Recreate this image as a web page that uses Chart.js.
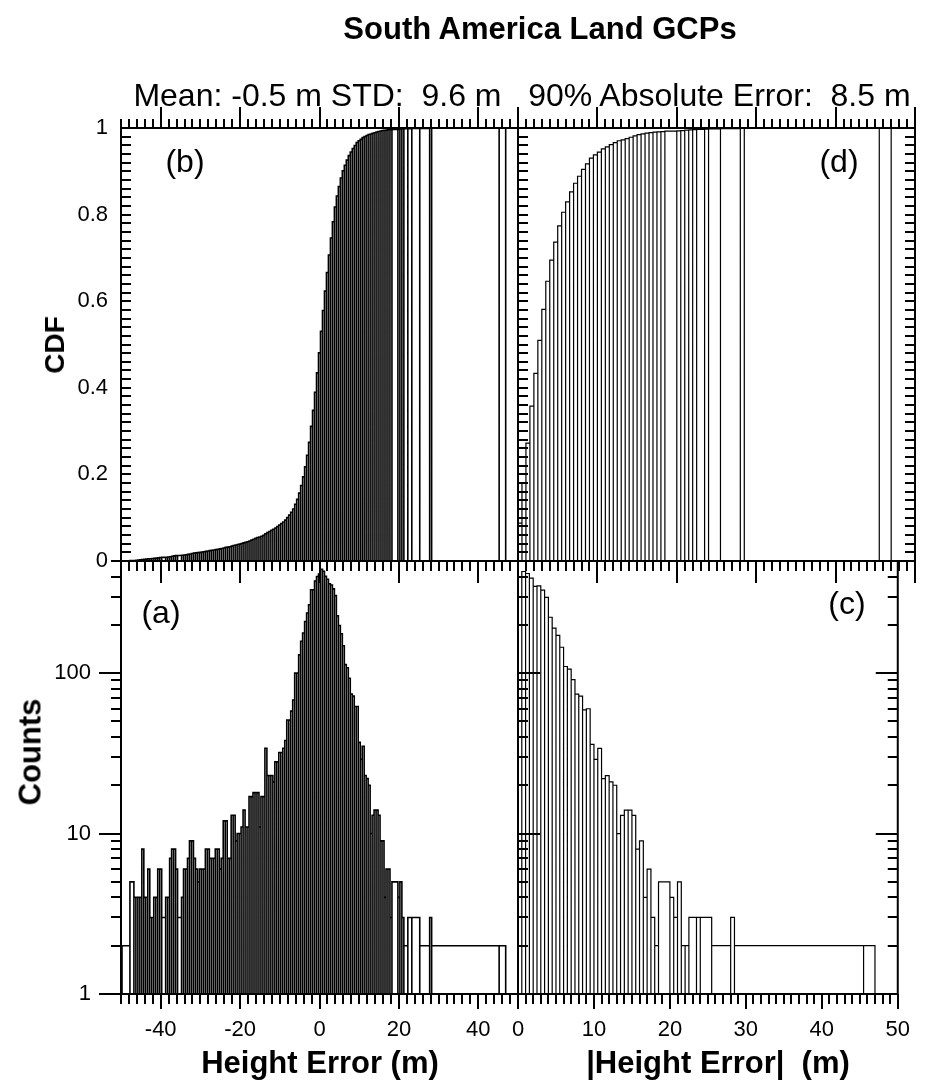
<!DOCTYPE html>
<html><head><meta charset="utf-8">
<script src="https://cdn.jsdelivr.net/npm/chart.js@4/dist/chart.umd.min.js"></script>
<style>
html,body{margin:0;padding:0;background:#fff;}
#wrap{position:relative;width:933px;height:1091px;overflow:hidden;font-family:"Liberation Sans",Arial,Helvetica,sans-serif;color:#000;}
canvas{position:absolute;left:0;top:0;}
.t{position:absolute;white-space:pre;line-height:1;transform:translate(-50%,-50%);}
.b{font-weight:bold;}
.r{transform:translate(-50%,-50%) rotate(-90deg);}
</style></head><body>
<div id="wrap">
<canvas id="cTL" width="933" height="1091"></canvas>
<canvas id="cTR" width="933" height="1091"></canvas>
<canvas id="cBL" width="933" height="1091"></canvas>
<canvas id="cBR" width="933" height="1091"></canvas>
<div class="t b" style="left:540px;top:28px;font-size:31px">South America Land GCPs</div>
<div class="t" style="left:522px;top:95px;font-size:32px">Mean: -0.5 m STD:  9.6 m   90% Absolute Error:  8.5 m</div>
<div class="t b r" style="left:55px;top:345px;font-size:28px">CDF</div>
<div class="t b r" style="left:30px;top:752px;font-size:31px">Counts</div>
<div class="t b" style="left:320px;top:1062px;font-size:31px">Height Error (m)</div>
<div class="t b" style="left:718px;top:1062px;font-size:31px">|Height Error|  (m)</div>
<div class="t" style="left:185px;top:161px;font-size:32px">(b)</div>
<div class="t" style="left:839px;top:161px;font-size:32px">(d)</div>
<div class="t" style="left:161px;top:612px;font-size:32px">(a)</div>
<div class="t" style="left:847px;top:603px;font-size:32px">(c)</div>
</div>
<script>
// ---------------- DATA ----------------
// Signed height error histogram: 0.5 m bins, first bin edge at -49.75 m
const signedBinStart = -49.75;
const signedBinWidth = 0.5;
const signedCounts = [
  2,0,0,0,5,0,4,4,4,4,
  8,4,4,6,3,3,4,4,6,6,
  3,0,4,4,7,8,8,6,3,0,
  4,6,6,7,9,9,7,6,5,6,
  6,6,8,8,7,7,7,8,8,6,
  7,12,12,7,7,13,13,9,10,10,
  11,14,11,11,17,17,18,18,18,11,
  17,17,34,23,23,23,21,28,28,32,
  32,34,38,51,51,58,68,100,100,130,
  158,178,210,237,267,331,331,375,400,414,
  444,432,401,385,361,354,335,304,228,198,
  176,148,113,108,93,74,72,62,62,37,
  29,35,23,22,20,10,13,14,14,13,
  9,9,4,6,6,3,5,0,0,4,
  5,3,2,0,3,0,3,0,0,0,
  2,0,0,0,0,3,2,0,0,0,
  0,0,0,0,0,0,0,0,0,0,
  0,0,0,0,0,0,0,0,0,0,
  0,0,0,0,0,0,0,0,0,0,
  2
];
const signedLastEdge = 46.9;

// Absolute height error histogram: 0.5 m bins starting at 0 m
const absBinStart = 0;
const absBinWidth = 0.5;
const absCounts = [
  400,430,418,391,347,350,329,297,223,191,
  172,145,110,106,91,74,72,59,60,36,
  29,34,22,23,21,20,10,13,14,14,
  13,8,9,4,6,3,2,5,0,0,
  4,3,5,2,2,3,0,3,3,0,
  0,2,0,0,0,0,3,2,0,0,
  0,0,0,0,0,0,0,0,0,0,
  0,0,0,0,0,0,0,0,0,0,
  0,0,0,0,0,0,0,0,0,0,
  0,2
];
const absLastEdge = 47.0;

// Axis ranges and tick labels
const signedRange = [-50, 50];
const absRange = [0, 50];
const cdfRange = [0, 1];
const countRange = [1, 500];
const cdfTickLabels = [0, 0.2, 0.4, 0.6, 0.8, 1];
const countTickLabels = [1, 10, 100];
const signedTickLabels = [-40, -20, 0, 20, 40];
const absTickLabels = [0, 10, 20, 30, 40, 50];

// ---------------- HELPERS ----------------
function histBars(start, width, counts, lastEdge) {
  const idx = [];
  counts.forEach((c, i) => { if (c > 0) idx.push(i); });
  return idx.map((i, j) => ({
    x0: start + width * i,
    x1: j + 1 < idx.length ? start + width * idx[j + 1] : lastEdge,
    v: counts[i]
  }));
}
function cdfOf(bars) {
  const tot = bars.reduce((s, b) => s + b.v, 0);
  let acc = 0;
  return bars.map(b => { acc += b.v; return { x0: b.x0, x1: b.x1, v: acc / tot }; });
}
function outline(bars, base) {
  const pts = [];
  for (const b of bars) {
    pts.push({x: b.x0, y: base}, {x: b.x0, y: b.v}, {x: b.x1, y: b.v}, {x: b.x1, y: base});
  }
  return pts;
}
function stepList(a, b, s) { const r = []; for (let k = 0; a + k * s <= b + 1e-9; k++) r.push(+(a + k * s).toFixed(6)); return r; }
const logMinor = [2,3,4,5,6,7,8,9,20,30,40,50,60,70,80,90,200,300,400,500];

const decor = {
  id: 'decor',
  afterDraw(chart, args, o) {
    const ctx = chart.ctx, a = chart.chartArea;
    const xs = chart.scales.x, ys = chart.scales.y;
    ctx.save();
    ctx.strokeStyle = '#000';
    ctx.lineWidth = 2;
    for (const t of o.ticks) {
      const horiz = (t.side === 'top' || t.side === 'bottom');
      const sc = horiz ? xs : ys;
      ctx.beginPath();
      for (const v of t.values) {
        const p = Math.round(sc.getPixelForValue(v));
        if (t.side === 'top') { const s = t.out ? -1 : 1; ctx.moveTo(p, a.top); ctx.lineTo(p, a.top + s * t.len); }
        if (t.side === 'bottom') { const s = t.out ? 1 : -1; ctx.moveTo(p, a.bottom); ctx.lineTo(p, a.bottom + s * t.len); }
        if (t.side === 'left') { const s = t.out ? -1 : 1; ctx.moveTo(a.left, p); ctx.lineTo(a.left + s * t.len, p); }
        if (t.side === 'right') { const s = t.out ? 1 : -1; ctx.moveTo(a.right, p); ctx.lineTo(a.right + s * t.len, p); }
      }
      ctx.stroke();
    }
    ctx.strokeRect(a.left, a.top, a.right - a.left, a.bottom - a.top);
    ctx.restore();
  }
};

Chart.defaults.font.family = "'Liberation Sans', Arial, Helvetica, sans-serif";
Chart.defaults.color = '#000';

const W = 933, H = 1091;
const X0 = 121, XM = 518, X1 = 915, Y0 = 128, YM = 561, Y1 = 994;
const Y_AXIS_W = 100, X_AXIS_H = 70;

function panel(id, area, xType, xr, yType, yr, pts, lw, xLabels, yLabels, yPad, ticks) {
  const yw = yLabels ? Y_AXIS_W : 0;
  const xh = xLabels ? X_AXIS_H : 0;
  new Chart(document.getElementById(id), {
    type: 'scatter',
    data: { datasets: [{ data: pts, showLine: true, pointRadius: 0, borderColor: '#000', borderWidth: lw, fill: false, tension: 0 }] },
    options: {
      responsive: false, animation: false, events: [],
      layout: { padding: { left: area.l - yw, top: area.t, right: W - area.r, bottom: H - area.b - xh } },
      plugins: { legend: { display: false }, tooltip: { enabled: false }, decor: { ticks } },
      scales: {
        x: {
          type: xType, min: xr[0], max: xr[1], display: !!xLabels,
          grid: { display: false, drawTicks: false }, border: { display: false },
          afterFit(s) { s.height = xh; },
          afterBuildTicks(s) { if (xLabels) s.ticks = xLabels.map(v => ({ value: v })); },
          ticks: { font: { size: 22 }, padding: 23, maxRotation: 0, autoSkip: false, callback: v => String(v) }
        },
        y: {
          type: yType, min: yr[0], max: yr[1], display: !!yLabels,
          grid: { display: false, drawTicks: false }, border: { display: false },
          afterFit(s) { s.width = yw; },
          afterBuildTicks(s) { if (yLabels) s.ticks = yLabels.map(v => ({ value: v })); },
          ticks: { font: { size: 22 }, padding: yPad, autoSkip: false, callback: v => String(v) }
        }
      }
    },
    plugins: [decor]
  });
}

const sBars = histBars(signedBinStart, signedBinWidth, signedCounts, signedLastEdge);
const aBars = histBars(absBinStart, absBinWidth, absCounts, absLastEdge);

const sMinor = stepList(signedRange[0], signedRange[1], 2);
const aMinor = stepList(absRange[0], absRange[1], 1);
const cMinor = stepList(cdfRange[0], cdfRange[1], 0.02);

// (b) top-left
panel('cTL', {l: X0, t: Y0, r: XM, b: YM}, 'linear', signedRange, 'linear', cdfRange,
  outline(cdfOf(sBars), 0), 1.6, null, cdfTickLabels, 13, [
    {side: 'top', out: true, values: sMinor, len: 9},
    {side: 'top', out: true, values: signedTickLabels, len: 21},
    {side: 'bottom', out: true, values: sMinor, len: 10},
    {side: 'bottom', out: true, values: signedTickLabels, len: 22},
    {side: 'left', out: false, values: cMinor, len: 10}
  ]);
// (d) top-right
panel('cTR', {l: XM, t: Y0, r: X1, b: YM}, 'linear', absRange, 'linear', cdfRange,
  outline(cdfOf(aBars), 0), 1.2, null, null, 0, [
    {side: 'top', out: true, values: aMinor, len: 9},
    {side: 'top', out: true, values: absTickLabels, len: 21},
    {side: 'bottom', out: true, values: aMinor, len: 10},
    {side: 'bottom', out: true, values: absTickLabels, len: 22},
    {side: 'left', out: false, values: cMinor, len: 10},
    {side: 'right', out: false, values: cMinor, len: 10}
  ]);
// (a) bottom-left
panel('cBL', {l: X0, t: YM, r: XM, b: Y1}, 'linear', signedRange, 'logarithmic', countRange,
  outline(sBars, countRange[0]), 1.6, signedTickLabels, countTickLabels, 30, [
    {side: 'left', out: true, values: logMinor, len: 10},
    {side: 'left', out: true, values: countTickLabels, len: 22},
    {side: 'bottom', out: true, values: sMinor, len: 10},
    {side: 'bottom', out: true, values: signedTickLabels, len: 15}
  ]);
// (c) bottom-right
panel('cBR', {l: XM, t: YM, r: X1, b: Y1}, 'linear', absRange, 'logarithmic', countRange,
  outline(aBars, countRange[0]), 1.2, absTickLabels, null, 0, [
    {side: 'left', out: false, values: logMinor, len: 10},
    {side: 'left', out: false, values: countTickLabels, len: 22},
    {side: 'right', out: false, values: logMinor, len: 10},
    {side: 'right', out: false, values: countTickLabels, len: 22},
    {side: 'bottom', out: true, values: aMinor, len: 10},
    {side: 'bottom', out: true, values: absTickLabels, len: 15}
  ]);
</script>
</body></html>
